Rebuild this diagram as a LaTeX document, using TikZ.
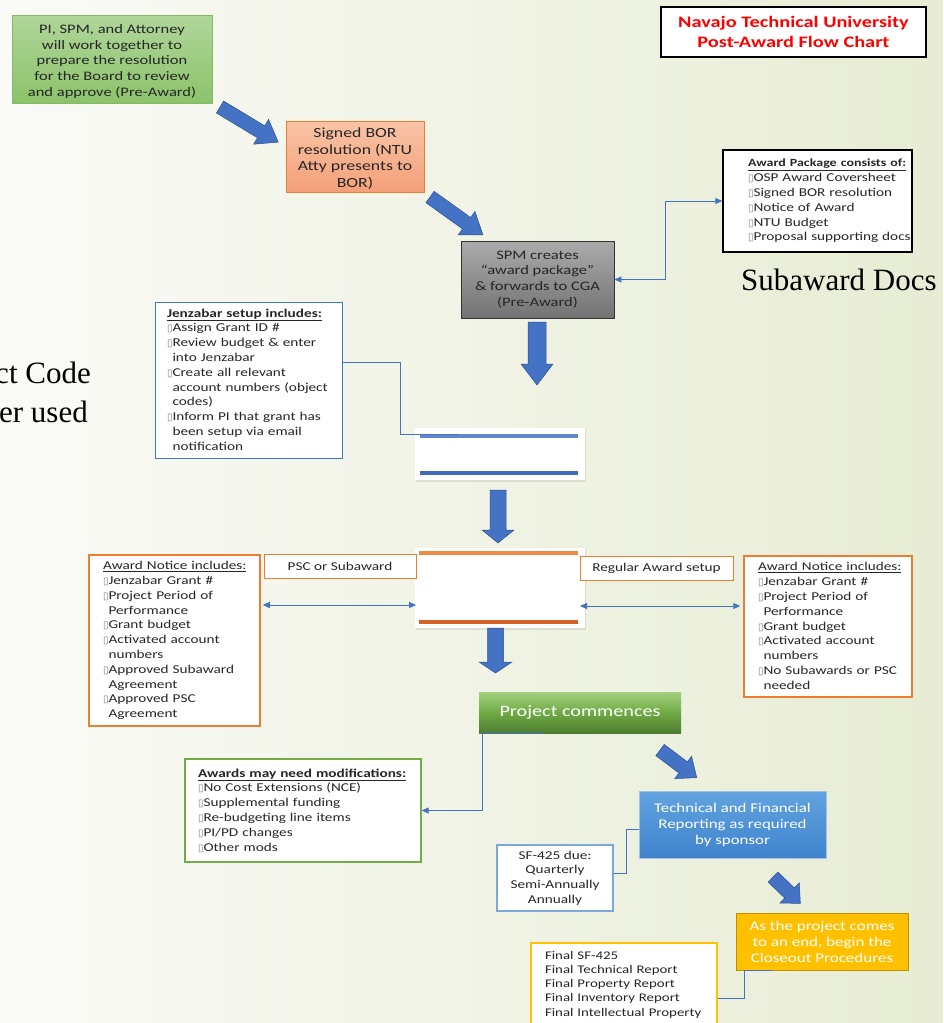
\documentclass[tikz,border=0pt]{standalone}
\usepackage{fontspec}
\setmainfont{Carlito}[FakeStretch=1.27]
\newfontfamily\seriffont{Liberation Serif}
\newfontfamily\symfont{DejaVu Sans}
\usetikzlibrary{arrows.meta,calc,shadows}
\definecolor{bgL}{HTML}{FAFBF7}
\definecolor{bgR}{HTML}{E7ECD4}
\definecolor{txt}{HTML}{262626}
\definecolor{ablue}{HTML}{4472C4}
\definecolor{ablueD}{HTML}{2F528F}
\definecolor{cblue}{HTML}{4472C4}
\definecolor{orgD}{HTML}{ED7D31}
\definecolor{grnD}{HTML}{70AD47}
\definecolor{grnT}{HTML}{B0D69A}
\definecolor{grnB}{HTML}{8CC36B}
\definecolor{borT}{HTML}{F8C4A6}
\definecolor{borB}{HTML}{F4A07A}
\definecolor{pcT}{HTML}{A3D07E}
\definecolor{pcM}{HTML}{6FAA45}
\definecolor{pcB}{HTML}{4E7D30}
\definecolor{techT}{HTML}{62A3E0}
\definecolor{techB}{HTML}{3F83CC}
\definecolor{gold}{HTML}{FFC000}
\definecolor{goldD}{HTML}{BF9000}
\definecolor{lblue}{HTML}{7BA7DC}
\newcommand\bx{{\symfont\fontsize{10}{10}\selectfont\color{gray}▯}}
\newcommand\ind{\phantom{\bx}}
\newcommand\fA{\fontsize{12}{14.8}\selectfont}
\newcommand\barrow[7]{\begin{scope}[shift={(#1,#2)},rotate=#3]
  \filldraw[fill=ablue,draw=ablueD,line width=0.5pt] (0,-#5) -- (#4-#7,-#5) -- (#4-#7,-#6) -- (#4,0) -- (#4-#7,#6) -- (#4-#7,#5) -- (0,#5) -- cycle;
\end{scope}}
\tikzset{
  x=1pt,y=-1pt,
  cbox/.style={align=center,inner sep=0pt,font=\fA,text=txt},
  lbox/.style n args={3}{draw,fill=white,minimum width=#1,minimum height=#2,text width=#1,inner xsep=0pt,inner ysep=0pt,align=left,font=\fA,text=txt,
     execute at begin node={\leftskip=#3pt\rightskip=-80pt plus 1fil}},
  conn/.style={draw=cblue,line width=0.8pt},
  tipb/.style={{Triangle[length=7pt,width=6pt]}-{Triangle[length=7pt,width=6pt]}},
  tipe/.style={-{Triangle[length=7pt,width=6pt]}},
  midbox/.style={fill=white,minimum width=170,minimum height=#1,inner sep=0pt,drop shadow={opacity=0.18,shadow xshift=1pt,shadow yshift=-2pt}},
  bigtxt/.style={font=\seriffont\fontsize{31}{31}\selectfont,text=black,inner sep=0pt}
}
\begin{document}
\begin{tikzpicture}
\useasboundingbox (0,0) rectangle (943,1023);
\clip (0,0) rectangle (943,1023);
\shade[left color=bgL,right color=bgR] (0,0) rectangle (943,1023);

% background texts
\node[bigtxt,anchor=base east] (ct) at (91,383) {ct Code};
\node[bigtxt,anchor=base east] (er) at (88,422) {er used};
\node[bigtxt,anchor=base west] (subdocs) at (741,290) {Subaward Docs};

% title
\node[draw=black,line width=1.5pt,fill=white,minimum width=265,minimum height=50,align=center,inner sep=0pt,
  font=\bfseries\fontsize{16}{19.5}\selectfont,text=red] (title) at (793.5,32) {Navajo Technical University\\Post-Award Flow Chart};

% green start
\node[cbox,draw=grnD!85,top color=grnT,bottom color=grnB,line width=0.8pt,
  minimum width=200,minimum height=88,font=\fontsize{13}{15.7}\selectfont] (pi) at (112,59)
  {\rule{0pt}{14pt}PI, SPM, and Attorney\\will work together to\\prepare the resolution\\for the Board to review\\and approve (Pre-Award)};

% BOR
\node[cbox,draw=orgD,top color=borT,bottom color=borB,line width=0.8pt,
  minimum width=138,minimum height=71,font=\fontsize{14}{16.7}\selectfont] (bor) at (355,156.5)
  {\rule{0pt}{14pt}Signed BOR\\resolution (NTU\\Atty presents to\\BOR)};

% SPM
\node[cbox,draw=black!80,top color=black!33,bottom color=black!55,line width=0.8pt,
  minimum width=153,minimum height=77,font=\fontsize{13}{15.7}\selectfont] (spm) at (537.5,279.5)
  {SPM creates\\“award package”\\\& forwards to CGA\\(Pre-Award)};

% award package
\node[lbox={189}{102}{25},draw=black,line width=1.5pt] (pkg) at (817.5,201)
  {{\bfseries\fontsize{11}{14.8}\selectfont\underline{Award Package consists of:}}\\
   \bx OSP Award Coversheet\\
   \bx Signed BOR resolution\\
   \bx Notice of Award\\
   \bx NTU Budget\\
   \bx Proposal supporting docs};

% Jenzabar
\node[lbox={187}{156}{12},draw=ablue,line width=1pt] (jz) at (248.5,380)
  {{\bfseries\underline{Jenzabar setup includes:}}\\
   \bx Assign Grant ID \#\\
   \bx Review budget \& enter\\
   \ind into Jenzabar\\
   \bx Create all relevant\\
   \ind account numbers (object\\
   \ind codes)\\
   \bx Inform PI that grant has\\
   \ind been setup via email\\
   \ind notification};

% middle boxes
\node[midbox=52] (mid1) at (500,454) {};
\draw[line width=4pt,draw=ablue!85] ($(mid1.north west)+(5,8)$) -- ($(mid1.north east)+(-7,8)$);
\draw[line width=4pt,draw=ablue!95!black] ($(mid1.south west)+(5,-7)$) -- ($(mid1.south east)+(-7,-7)$);
\node[midbox=80] (mid2) at (500,588) {};
\draw[line width=4.5pt,draw=orgD!90] ($(mid2.north west)+(4,5)$) -- ($(mid2.north east)+(-7,5)$);
\draw[line width=4.5pt,draw=orgD!85!red!90!black] ($(mid2.south west)+(4,-6)$) -- ($(mid2.south east)+(-7,-6)$);

% PSC / Regular labels
\node[cbox,draw=orgD,fill=white,line width=1pt,minimum width=152,minimum height=24] (psc) at (340,566) {PSC or Subaward};
\node[cbox,draw=orgD,fill=white,line width=1pt,minimum width=153,minimum height=24] (reg) at (656.5,568) {Regular Award setup};

% Award notices
\node[lbox={171}{171}{14},draw=orgD,line width=1.5pt] (an1) at (174.5,640.5)
  {\underline{Award Notice includes:}\\
   \bx Jenzabar Grant \#\\
   \bx Project Period of\\
   \ind Performance\\
   \bx Grant budget\\
   \bx Activated account\\
   \ind numbers\\
   \bx Approved Subaward\\
   \ind Agreement\\
   \bx Approved PSC\\
   \ind Agreement};
\node[lbox={168}{141}{14},draw=orgD,line width=1.5pt] (an2) at (828,626.5)
  {\underline{Award Notice includes:}\\
   \bx Jenzabar Grant \#\\
   \bx Project Period of\\
   \ind Performance\\
   \bx Grant budget\\
   \bx Activated account\\
   \ind numbers\\
   \bx No Subawards or PSC\\
   \ind needed};

% project commences
\node[cbox,top color=pcT,bottom color=pcB,middle color=pcM,minimum width=202,minimum height=41,
  font=\fontsize{15.9}{18}\selectfont,text=white] (pc) at (580,712.5) {Project commences};

% modifications
\node[lbox={236}{103}{13},draw=grnD,line width=1.3pt] (mod) at (303,810.5)
  {{\bfseries\underline{Awards may need modifications:}}\\
   \bx No Cost Extensions (NCE)\\
   \bx Supplemental funding\\
   \bx Re-budgeting line items\\
   \bx PI/PD changes\\
   \bx Other mods};

% technical reporting
\node[cbox,draw=lblue!70,top color=techT,bottom color=techB,line width=0.6pt,
  minimum width=187,minimum height=67,font=\fontsize{13.3}{16}\selectfont,text=white] (tech) at (732.5,824.5)
  {Technical and Financial\\Reporting as required\\by sponsor};

% SF-425
\node[cbox,draw=lblue,fill=white,line width=1.3pt,minimum width=116,minimum height=66,font=\fontsize{12}{14.7}\selectfont] (sf) at (555,878)
  {SF-425 due:\\Quarterly\\Semi-Annually\\Annually};

% closeout
\node[cbox,draw=goldD,fill=gold,line width=1pt,minimum width=172,minimum height=57,
  font=\fontsize{13.4}{16}\selectfont,text=white] (close) at (822,941.5)
  {As the project comes\\to an end, begin the\\Closeout Procedures};

% final list
\node[lbox={186}{83}{14},draw=gold,line width=1.3pt,font=\fontsize{11.7}{14.3}\selectfont] (final) at (624,984.5)
  {Final SF-425\\
   Final Technical Report\\
   Final Property Report\\
   Final Inventory Report\\
   Final Intellectual Property};

% block arrows
\barrow{220}{107}{-31.1}{68}{7}{14.5}{20}
\barrow{430}{197}{-35.6}{65}{7}{14.5}{20}
\barrow{537}{322}{-90}{63}{9}{16}{21}
\barrow{498}{490}{-90}{53}{8}{16}{13}
\barrow{495.5}{628}{-90}{45}{8}{16.5}{11}
\barrow{660}{750}{-37}{46}{7}{14}{17}
\barrow{773}{877}{-44}{38}{7}{14}{15}

% connectors
\draw[conn,tipb] (spm.east) -- ++(51,0) |- (pkg.west);
\coordinate (jzend) at (458,434);
\draw[conn] ($(jz.east)+(0,-18)$) -| (400,434) -- (jzend);
\coordinate (lmid) at (416,605);
\draw[conn,tipb] ($(an1.east|-lmid)+(2,0)$) -- (lmid);
\coordinate (rmid) at (580,606);
\draw[conn,tipb] (rmid) -- ($(an2.west|-rmid)+(-3,0)$);
\draw[conn,tipe] ($(pc.south west)+(64,0)$) -- ($(pc.south west)+(4,0)$) |- (mod.east);
\draw[conn] (sf.east|-0,873) -- (626,873) |- (tech.west|-0,829);
\draw[conn] ($(close.south west)+(36,0)$) -- ($(close.south west)+(9,0)$) |- (final.east|-0,998);
\end{tikzpicture}
\end{document}
